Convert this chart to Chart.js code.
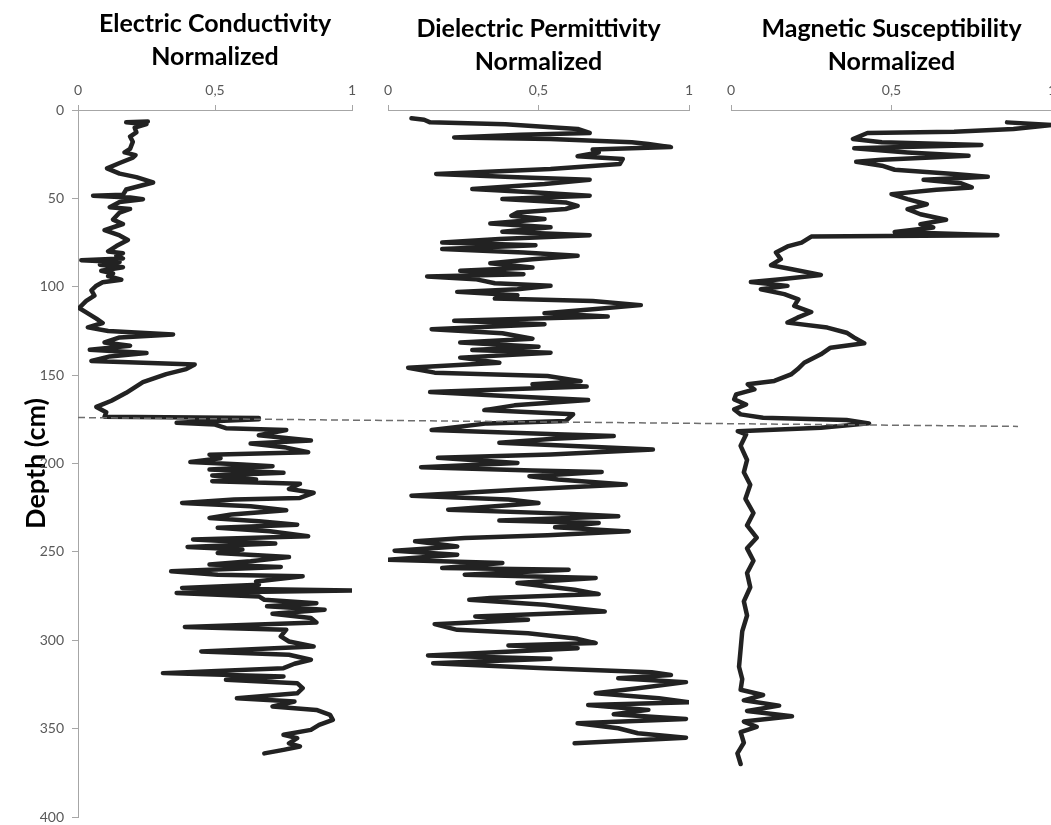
<!DOCTYPE html>
<html>
<head>
<meta charset="utf-8">
<title>Depth profiles</title>
<script src="https://cdn.jsdelivr.net/npm/chart.js@4.4.1/dist/chart.umd.min.js"></script>
<style>
  body { margin: 0; background: #fff; overflow: hidden; }
  #wrap { position: relative; width: 1051px; height: 825px; }
  #wrap canvas { position: absolute; top: 0; }
</style>
</head>
<body>
<div id="wrap">
  <canvas id="ec" width="445" height="825" style="left:0"></canvas>
  <canvas id="dp" width="327" height="825" style="left:380px"></canvas>
  <canvas id="ms" width="329" height="825" style="left:723px"></canvas>
  <canvas id="divider" width="1051" height="825" style="left:0"></canvas>
</div>
<script>
// Electric conductivity (normalized) vs depth (cm)
const ecDepth = [6.5, 7, 8, 10, 12.6, 15, 18, 22, 24, 25.5, 27, 30, 33, 36, 38, 41, 43, 45, 48, 48.5, 49.5, 50.5, 52, 55, 56, 58, 62, 64.5, 68, 71, 73.5, 77, 80, 81, 82.5, 84, 85, 86, 87.5, 89, 91, 92.5, 94, 96, 97.5, 99.4, 102, 105, 108, 112, 114.5, 118, 120.5, 123, 125, 127, 128.7, 131.5, 133.4, 135.7, 137.5, 139.4, 142, 144, 146.6, 149.4, 154, 160, 164.5, 168, 171, 173.5,
  174.2, 175, 177, 178, 180, 181, 184, 187, 188.7, 191, 193.6, 195, 197, 199.2, 200.6, 201.5, 203.4, 205.3, 206.8, 209, 210, 211.5, 214.4, 216.6, 219.5, 220.4, 222.3, 224.2, 226.4, 228.9, 230.8, 232.7, 234.6, 236.4, 238.3, 241.2, 243, 245.3, 247.2, 248.7, 250.6, 252.9, 255.3, 257.2, 258.5, 261, 262.9, 263.8, 266.7, 268.6, 270.4, 271.8, 273.3, 275.2, 277.1, 279, 280.8, 282.7, 285, 287.4, 290, 292.5, 294, 297.8, 300.7, 303.5, 306.3, 308.2, 311, 313.3, 315.8, 318.6, 320.5, 322.4, 324.3, 327.1, 330, 332.8, 334.7, 337.5, 339.4, 342.2, 345, 347.9, 350.7, 353.5, 355.4, 358.3, 360.1, 362, 364];
const ecValue = [0.255, 0.176, 0.25, 0.207, 0.213, 0.19, 0.2, 0.19, 0.17, 0.21, 0.2, 0.152, 0.106, 0.152, 0.213, 0.274, 0.225, 0.176, 0.164, 0.055, 0.19, 0.237, 0.152, 0.116, 0.19, 0.152, 0.128, 0.164, 0.097, 0.152, 0.182, 0.14, 0.11, 0.164, 0.14, 0.164, 0.012, 0.152, 0.08, 0.164, 0.085, 0.128, 0.11, 0.158, 0.09, 0.067, 0.049, 0.06, 0.03, 0.004, 0.03, 0.067, 0.09, 0.036, 0.11, 0.347, 0.152, 0.097, 0.19, 0.043, 0.25, 0.116, 0.049, 0.426, 0.395, 0.322, 0.237, 0.176, 0.122, 0.067, 0.103, 0.097,
  0.66, 0.66, 0.36, 0.5, 0.54, 0.76, 0.66, 0.85, 0.63, 0.76, 0.84, 0.48, 0.52, 0.41, 0.6, 0.71, 0.48, 0.75, 0.49, 0.65, 0.49, 0.81, 0.77, 0.86, 0.81, 0.57, 0.38, 0.63, 0.76, 0.56, 0.48, 0.66, 0.8, 0.51, 0.7, 0.84, 0.42, 0.72, 0.4, 0.6, 0.51, 0.77, 0.63, 0.48, 0.74, 0.34, 0.51, 0.82, 0.65, 0.66, 0.38, 1.0, 0.36, 0.66, 0.68, 0.87, 0.69, 0.9, 0.71, 0.85, 0.87, 0.39, 0.76, 0.74, 0.77, 0.86, 0.45, 0.77, 0.85, 0.79, 0.75, 0.31, 0.75, 0.54, 0.8, 0.82, 0.8, 0.58, 0.79, 0.71, 0.87, 0.92, 0.93, 0.88, 0.85, 0.75, 0.8, 0.77, 0.81, 0.75, 0.68];

// Dielectric permittivity (normalized) vs depth (cm)
const dpDepth = [4.7, 5.5, 7, 8, 10.7, 13, 14, 15.5, 16.4, 18.3, 19.2, 21, 22.4, 24, 26.2, 27.7, 30.6, 33.4, 36.2, 38.1, 39.4, 41.9, 44.7, 46.6, 48.5, 50.4, 52.3, 54.2, 56, 58, 59.8, 61.7, 64.2, 66.4, 68.9, 70.8, 73, 75, 76.5, 78.7, 80.6, 82.5, 84.4, 86.7, 89.1, 91, 92.9, 94.2, 95.7, 98, 99.5, 101.4, 102.9, 104.8, 106.7, 108, 110.4, 112.7, 115, 116.9, 119.3, 121.2, 124, 126.3, 129.4, 131.6, 133.9, 135.8, 137.3, 140.1, 143, 145.8, 148.6, 150.5, 153.4, 155.2, 156.5, 159.6, 161.8, 164.1, 167.1, 169.8, 172.2, 176, 177.3, 181, 183.5,
  184.5, 186, 188.3, 192.1, 194.9, 196.8, 199.7, 202.1, 204, 204.8, 207.2, 209.1, 211.9, 214.8, 218.2, 220.4, 222.3, 226.1, 228.5, 229.9, 232.3, 233.6, 236.1, 238.4, 240.6, 242.1, 244, 246.9, 249.3, 251.6, 254.4, 256.3, 259.1, 260.1, 262.9, 264.8, 267.6, 271.4, 273.9, 276.1, 277.1, 279.9, 283.7, 286.5, 288.4, 290.9, 294.1, 296, 299.2, 301.6, 303, 304.5, 306.4, 308.6, 310.5, 313, 315.8, 318.1, 319.6, 321.5, 323.7, 327.1, 330, 332.8, 335.1, 336.6, 339.4, 341.9, 344.5, 347, 349.8, 352.6, 355.1, 358.3];
const dpValue = [0.078, 0.12, 0.14, 0.39, 0.63, 0.67, 0.44, 0.22, 0.54, 0.81, 0.865, 0.94, 0.68, 0.7, 0.63, 0.78, 0.77, 0.54, 0.16, 0.43, 0.67, 0.52, 0.28, 0.48, 0.67, 0.38, 0.59, 0.63, 0.59, 0.43, 0.41, 0.52, 0.34, 0.54, 0.38, 0.67, 0.37, 0.18, 0.49, 0.18, 0.45, 0.63, 0.48, 0.34, 0.48, 0.24, 0.45, 0.13, 0.29, 0.355, 0.54, 0.43, 0.23, 0.43, 0.355, 0.68, 0.84, 0.68, 0.52, 0.73, 0.22, 0.52, 0.145, 0.38, 0.48, 0.24, 0.5, 0.28, 0.54, 0.24, 0.37, 0.067, 0.155, 0.53, 0.64, 0.48, 0.66, 0.14, 0.39, 0.665, 0.42, 0.32, 0.615, 0.59, 0.33, 0.145, 0.56,
  0.75, 0.55, 0.37, 0.88, 0.54, 0.166, 0.43, 0.11, 0.48, 0.71, 0.47, 0.565, 0.79, 0.43, 0.078, 0.4, 0.5, 0.2, 0.61, 0.765, 0.37, 0.7, 0.555, 0.8, 0.53, 0.255, 0.09, 0.23, 0.022, 0.23, 0.0, 0.38, 0.18, 0.6, 0.255, 0.69, 0.43, 0.62, 0.7, 0.34, 0.27, 0.52, 0.72, 0.29, 0.465, 0.155, 0.23, 0.465, 0.63, 0.69, 0.4, 0.63, 0.41, 0.133, 0.54, 0.15, 0.52, 0.876, 0.94, 0.765, 0.99, 0.83, 0.69, 0.9, 1.0, 0.665, 0.865, 0.75, 0.99, 0.63, 0.765, 0.83, 0.99, 0.62];

// Magnetic susceptibility (normalized) vs depth (cm)
const msDepth = [7, 8.5, 10.8, 12.3, 13, 16.4, 18.3, 19.8, 21.7, 24, 25.9, 28.1, 29.3, 31.5, 33.8, 36.2, 37.8, 39.5, 41.4, 43.8, 45.1, 47.6, 50.4, 53.3, 56.1, 59, 62.1, 64.6, 66.5, 69, 70.8, 71.6, 75, 77.2, 80.6, 84.4, 87.8, 90.1, 93.3, 95.7, 97.3, 99.5, 101.4, 104.2, 107.1, 110.8, 114.3, 117.5, 120.3, 123.1, 126, 128.8, 132, 134.5, 138.2, 143, 146.7, 149.6, 153.3, 155.2, 158.1, 160.9, 163.7, 166.6, 169.4, 172.2, 174.1, 175.4, 177.3, 179.8, 181.7, 183.6,
  190, 198, 205, 212, 220, 228, 235, 242, 248, 255, 262, 270, 278, 286, 295, 305, 315, 322, 328, 331, 334, 337, 340, 343, 346, 349, 352, 358, 364, 370];
const msValue = [0.86, 1.0, 0.88, 0.695, 0.425, 0.38, 0.47, 0.78, 0.384, 0.55, 0.74, 0.47, 0.39, 0.47, 0.51, 0.695, 0.8, 0.6, 0.715, 0.75, 0.64, 0.5, 0.55, 0.61, 0.55, 0.59, 0.67, 0.59, 0.63, 0.51, 0.83, 0.25, 0.22, 0.176, 0.14, 0.155, 0.125, 0.19, 0.28, 0.155, 0.062, 0.176, 0.093, 0.166, 0.21, 0.197, 0.25, 0.207, 0.176, 0.3, 0.36, 0.384, 0.415, 0.31, 0.28, 0.228, 0.207, 0.187, 0.135, 0.052, 0.073, 0.016, 0.01, 0.047, 0.01, 0.03, 0.1, 0.36, 0.43, 0.28, 0.021, 0.047,
  0.03, 0.05, 0.04, 0.06, 0.045, 0.07, 0.05, 0.08, 0.05, 0.07, 0.05, 0.06, 0.04, 0.05, 0.035, 0.03, 0.025, 0.035, 0.03, 0.1, 0.04, 0.15, 0.05, 0.19, 0.04, 0.08, 0.03, 0.04, 0.02, 0.03];

// dashed boundary line, from the left edge of the first panel (0) to its right end (1)
const dividerX = [0, 1];
const dividerDepth = [174, 179];

const depthTicks = { min: 0, max: 400, step: 50 };
const valueTicks = { min: 0, max: 1, step: 0.5 };

const AXIS_GREY = '#a6a6a6';
const LABEL_GREY = '#595959';
const LINE_COLOR = '#222222';

function toPoints(xs, ys) {
  return xs.map((x, i) => ({ x: x, y: ys[i] }));
}

function makePanel(id, title, depths, values, cfg) {
  const ctx = document.getElementById(id).getContext('2d');
  return new Chart(ctx, {
    type: 'scatter',
    data: {
      datasets: [{
        data: toPoints(values, depths),
        showLine: true,
        borderColor: LINE_COLOR,
        borderWidth: 4.5,
        borderJoinStyle: 'round',
        borderCapStyle: 'round',
        pointRadius: 0,
        tension: 0,
      }],
    },
    options: {
      responsive: false,
      animation: false,
      events: [],
      layout: { padding: cfg.padding },
      plugins: {
        legend: { display: false },
        tooltip: { enabled: false },
        title: {
          display: true,
          fullSize: false,
          text: title,
          color: '#000',
          font: { family: 'Lato', size: 25, weight: 'bold', lineHeight: 1.3 },
          padding: cfg.titlePadding,
        },
      },
      scales: {
        x: {
          type: 'linear',
          position: 'top',
          min: valueTicks.min,
          max: valueTicks.max,
          ticks: {
            stepSize: valueTicks.step,
            padding: 6,
            color: LABEL_GREY,
            font: { family: 'Lato', size: 14 },
            callback: (v) => String(v).replace('.', ','),
          },
          grid: { drawOnChartArea: false, drawTicks: true, tickLength: 5, color: AXIS_GREY },
          border: { color: AXIS_GREY },
          afterFit(s) { s.height = 30; s.paddingLeft = 0; s.paddingRight = 0; },
        },
        y: {
          type: 'linear',
          reverse: true,
          display: cfg.showDepth,
          min: depthTicks.min,
          max: depthTicks.max,
          ticks: {
            stepSize: depthTicks.step,
            padding: 8,
            color: LABEL_GREY,
            font: { family: 'Lato', size: 14 },
          },
          grid: { drawOnChartArea: false, drawTicks: true, tickLength: 6, color: AXIS_GREY },
          border: { color: AXIS_GREY },
          title: {
            display: true,
            text: 'Depth (cm)',
            color: '#000',
            font: { family: 'Lato', size: 27, weight: 'bold' },
            padding: { top: 0, bottom: 0 },
          },
          afterFit(s) {
            if (cfg.showDepth) { s.width = 78 - cfg.padding.left; }
            s.paddingTop = 0;
            s.paddingBottom = 0;
          },
        },
      },
    },
  });
}

makePanel('ec', ['Electric Conductivity', 'Normalized'], ecDepth, ecValue, {
  padding: { left: 20, right: 93, top: 4, bottom: 8 },
  titlePadding: { top: 4, bottom: 7 },
  showDepth: true,
});
makePanel('dp', ['Dielectric Permittivity', 'Normalized'], dpDepth, dpValue, {
  padding: { left: 8, right: 18, top: 4, bottom: 8 },
  titlePadding: { top: 9, bottom: 2 },
  showDepth: false,
});
makePanel('ms', ['Magnetic Susceptibility', 'Normalized'], msDepth, msValue, {
  padding: { left: 8, right: 0, top: 4, bottom: 8 },
  titlePadding: { top: 9, bottom: 2 },
  showDepth: false,
});

// overlay for the dashed boundary across all three panels
new Chart(document.getElementById('divider').getContext('2d'), {
  type: 'scatter',
  data: {
    datasets: [{
      data: toPoints(dividerX, dividerDepth),
      showLine: true,
      borderColor: '#6e6e6e',
      borderWidth: 1.5,
      borderDash: [7, 4],
      pointRadius: 0,
    }],
  },
  options: {
    responsive: false,
    animation: false,
    events: [],
    layout: { padding: { left: 78, right: 33, top: 110, bottom: 8 } },
    plugins: { legend: { display: false }, tooltip: { enabled: false } },
    scales: {
      x: { type: 'linear', display: false, min: 0, max: 1 },
      y: { type: 'linear', display: false, reverse: true, min: depthTicks.min, max: depthTicks.max },
    },
  },
});
</script>
</body>
</html>
